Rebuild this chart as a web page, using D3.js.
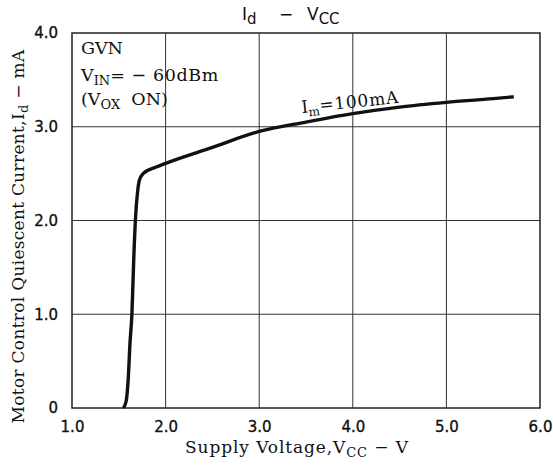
<!DOCTYPE html>
<html><head><meta charset="utf-8">
<script src="https://cdn.jsdelivr.net/npm/d3@7"></script>
<style>
body{margin:0;background:#fff;}
svg{display:block;}
text{white-space:pre;}
</style></head>
<body>
<script>
// Data
const voltage = [1.55, 1.58, 1.60, 1.62, 1.64, 1.66, 1.68, 1.70, 1.72, 1.76, 1.90, 2.00, 2.50, 3.00, 3.50, 4.00, 4.50, 5.00, 5.50, 5.72];
const current = [0.00, 0.08, 0.30, 0.70, 1.00, 1.60, 2.05, 2.30, 2.43, 2.50, 2.57, 2.61, 2.78, 2.95, 3.05, 3.14, 3.21, 3.26, 3.30, 3.32];
const xTicks = [1, 2, 3, 4, 5, 6];
const xTickLabels = ["1.0", "2.0", "3.0", "4.0", "5.0", "6.0"];
const yTicks = [0, 1, 2, 3, 4];
const yTickLabels = ["0", "1.0", "2.0", "3.0", "4.0"];

const W = 553, H = 467;
const m = {left: 72, right: 13, top: 33, bottom: 59};
const svg = d3.select("body").append("svg").attr("width", W).attr("height", H);

const x = d3.scaleLinear().domain([1, 6]).range([m.left, W - m.right]);
const y = d3.scaleLinear().domain([0, 4]).range([H - m.bottom, m.top]);

const serif = "DejaVu Serif";
const sans = "DejaVu Sans";
const ink = "#111";

// grid
const g = svg.append("g");
g.selectAll("line.v").data(xTicks.slice(1, -1)).join("line")
  .attr("x1", d => x(d)).attr("x2", d => x(d)).attr("y1", y(0)).attr("y2", y(4))
  .attr("stroke", "#333").attr("stroke-width", 1);
g.selectAll("line.h").data(yTicks.slice(1, -1)).join("line")
  .attr("y1", d => y(d)).attr("y2", d => y(d)).attr("x1", x(1)).attr("x2", x(6))
  .attr("stroke", "#333").attr("stroke-width", 1);
// frame
svg.append("rect").attr("x", x(1)).attr("y", y(4)).attr("width", x(6) - x(1)).attr("height", y(0) - y(4))
  .attr("fill", "none").attr("stroke", "#222").attr("stroke-width", 1.5);

// tick labels
const xAxis = d3.axisBottom(x).tickValues(xTicks).tickSize(0).tickPadding(13)
  .tickFormat((d, i) => xTickLabels[i]);
const xa = svg.append("g").attr("transform", `translate(0,${y(0)})`).call(xAxis);
xa.select(".domain").remove();
xa.selectAll("text").attr("font-family", sans).attr("font-size", 15).attr("fill", ink)
  .attr("stroke", ink).attr("stroke-width", 0.35);

const yAxis = d3.axisLeft(y).tickValues(yTicks).tickSize(0).tickPadding(14)
  .tickFormat((d, i) => yTickLabels[i]);
const ya = svg.append("g").attr("transform", `translate(${x(1)},0)`).call(yAxis);
ya.select(".domain").remove();
ya.selectAll("text").attr("font-family", sans).attr("font-size", 15).attr("fill", ink)
  .attr("stroke", ink).attr("stroke-width", 0.35);

// curve
const pts = voltage.map((v, i) => [v, current[i]]);
svg.append("path").datum(pts)
  .attr("d", d3.line().x(d => x(d[0])).y(d => y(d[1])).curve(d3.curveMonotoneX))
  .attr("fill", "none").attr("stroke", ink).attr("stroke-width", 3.4).attr("stroke-linejoin", "round");

// title
const t = svg.append("text").attr("y", 20).attr("font-family", sans).attr("font-size", 17).attr("fill", ink);
t.append("tspan").attr("x", 242).text("I");
t.append("tspan").attr("dy", 4).attr("font-size", 15).text("d");
t.append("tspan").attr("x", 279).attr("dy", -4).text("−");
t.append("tspan").attr("x", 307).text("V");
t.append("tspan").attr("dy", 4).attr("font-size", 15).text("CC");

// legend block
const lx = 81;
svg.append("text").attr("x", lx).attr("y", 54).attr("font-family", serif).attr("font-size", 17.5).attr("fill", ink).text("GVN");
const l2 = svg.append("text").attr("x", lx).attr("y", 81).attr("font-family", serif).attr("font-size", 17.5).attr("fill", ink);
l2.append("tspan").text("V");
l2.append("tspan").attr("dy", 4).attr("font-size", 13).text("IN");
l2.append("tspan").attr("dy", -4).attr("letter-spacing", 0.6).text("= − 60dBm");
const l3 = svg.append("text").attr("x", lx).attr("y", 105).attr("font-family", serif).attr("font-size", 17.5).attr("fill", ink);
l3.append("tspan").text("(V");
l3.append("tspan").attr("dy", 4).attr("font-size", 13).text("OX");
l3.append("tspan").attr("dy", -4).text("  ON)");

// curve annotation
const an = svg.append("text").attr("transform", `translate(302,113) rotate(-6)`)
  .attr("font-family", serif).attr("font-size", 17).attr("fill", ink);
an.append("tspan").text("I");
an.append("tspan").attr("dy", 4).attr("font-size", 12).text("m");
an.append("tspan").attr("dy", -4).attr("letter-spacing", 0.8).text("=100mA");

// axis titles
const xt = svg.append("text").attr("x", 297).attr("y", 453).attr("text-anchor", "middle")
  .attr("font-family", serif).attr("font-size", 17).attr("letter-spacing", 0.9).attr("fill", ink);
xt.append("tspan").text("Supply Voltage,V");
xt.append("tspan").attr("dy", 4).attr("font-size", 13).text("CC");
xt.append("tspan").attr("dy", -4).text(" − V");

const yt = svg.append("text").attr("transform", `translate(24,${(y(0) + y(4)) / 2 + 16}) rotate(-90)`)
  .attr("text-anchor", "middle").attr("font-family", serif).attr("font-size", 17).attr("letter-spacing", 0.3).attr("fill", ink);
yt.append("tspan").text("Motor Control Quiescent Current,I");
yt.append("tspan").attr("dy", 4).attr("font-size", 13).text("d");
yt.append("tspan").attr("dy", -4).text(" − mA");
</script>
</body></html>
